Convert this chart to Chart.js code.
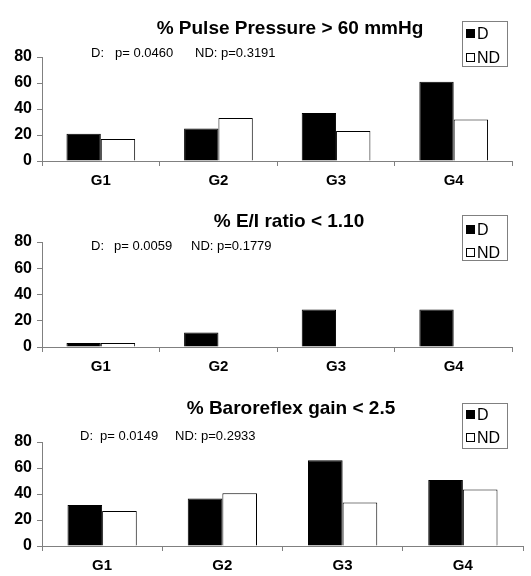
<!DOCTYPE html>
<html>
<head>
<meta charset="utf-8">
<script src="https://cdn.jsdelivr.net/npm/chart.js@4"></script>
<style>
  html, body { margin: 0; padding: 0; background: #fff; }
  body { width: 531px; height: 576px; position: relative; overflow: hidden; font-family: 'Liberation Sans', Arial, sans-serif; color: #000; }
  canvas { position: absolute; left: 0; }
  .title { position: absolute; font-weight: bold; font-size: 19px; white-space: nowrap; transform: translate(-50%, -50%); line-height: 1; }
  .note { position: absolute; font-size: 13px; white-space: nowrap; transform: translateY(-50%); line-height: 1; }
  .legend { position: absolute; border: 1px solid #808080; width: 46px; height: 46px; box-sizing: border-box; background: #fff; }
  .li { position: absolute; left: 3px; font-size: 16px; line-height: 1; white-space: nowrap; transform: translateY(-50%); }
  .sw { display: inline-block; width: 9px; height: 9px; box-sizing: border-box; border: 1px solid #000; margin-right: 2px; vertical-align: 1px; }
</style>
</head>
<body>
<canvas id="c1" width="531" height="191" style="top:0px"></canvas>
<canvas id="c2" width="531" height="187" style="top:190px"></canvas>
<canvas id="c3" width="531" height="196" style="top:380px"></canvas>

<div class="title" style="left:290px; top:27px">% Pulse Pressure &gt; 60 mmHg</div>
<div class="note" style="left:91px; top:52px">D:</div>
<div class="note" style="left:115px; top:52px">p= 0.0460</div>
<div class="note" style="left:195px; top:52px">ND: p=0.3191</div>
<div class="legend" style="left:462px; top:21px"><div class="li" style="top:12px"><span class="sw" style="background:#000"></span>D</div><div class="li" style="top:36px"><span class="sw" style="background:#fff"></span>ND</div></div>

<div class="title" style="left:289px; top:220px">% E/I ratio &lt; 1.10</div>
<div class="note" style="left:91px; top:245px">D:</div>
<div class="note" style="left:114px; top:245px">p= 0.0059</div>
<div class="note" style="left:191px; top:245px">ND: p=0.1779</div>
<div class="legend" style="left:462px; top:215px"><div class="li" style="top:14px"><span class="sw" style="background:#000"></span>D</div><div class="li" style="top:37px"><span class="sw" style="background:#fff"></span>ND</div></div>

<div class="title" style="left:291px; top:407px">% Baroreflex gain &lt; 2.5</div>
<div class="note" style="left:80px; top:435px">D:</div>
<div class="note" style="left:100px; top:435px">p= 0.0149</div>
<div class="note" style="left:175px; top:435px">ND: p=0.2933</div>
<div class="legend" style="left:462px; top:403px"><div class="li" style="top:11px"><span class="sw" style="background:#000"></span>D</div><div class="li" style="top:34px"><span class="sw" style="background:#fff"></span>ND</div></div>

<script>
const categories = ['G1', 'G2', 'G3', 'G4'];
const yTicks = [0, 20, 40, 60, 80];

const pulseD  = [21, 25, 37, 61];
const pulseND = [17, 33, 23, 32];

const eiD  = [3, 11, 28.6, 28.6];
const eiND = [3, 0, 0, 0];

const baroD  = [31.5, 36.5, 66, 50.7];
const baroND = [27, 40.6, 33.4, 43.5];

function makeChart(id, dVals, ndVals, padTop, padRight, catPct) {
  const axisGray = '#808080';
  return new Chart(document.getElementById(id), {
    type: 'bar',
    data: {
      labels: categories,
      datasets: [
        { label: 'D', data: dVals, backgroundColor: '#000', borderColor: '#000', borderWidth: 1 },
        { label: 'ND', data: ndVals, backgroundColor: '#fff', borderColor: '#000', borderWidth: 1 }
      ]
    },
    options: {
      responsive: false,
      devicePixelRatio: 1,
      animation: false,
      layout: { padding: { top: padTop, right: padRight, left: 0, bottom: 0 } },
      datasets: { bar: { categoryPercentage: catPct, barPercentage: 1 } },
      plugins: { legend: { display: false }, title: { display: false }, tooltip: { enabled: false } },
      scales: {
        x: {
          offset: true,
          grid: { display: true, offset: true, drawOnChartArea: false, drawTicks: true, tickLength: 5, color: axisGray },
          border: { display: true, color: axisGray, width: 1 },
          ticks: { color: '#000', padding: 6, font: { family: "'Liberation Sans', Arial", weight: 'bold', size: 15 } },
          afterFit: s => { s.height = 30; }
        },
        y: {
          min: 0, max: 80,
          afterBuildTicks: s => { s.ticks = yTicks.map(v => ({ value: v })); },
          grid: { display: true, drawOnChartArea: false, drawTicks: true, tickLength: 5, color: axisGray },
          border: { display: true, color: axisGray, width: 1 },
          ticks: { color: '#000', padding: 5, font: { family: "'Liberation Sans', Arial", weight: 'bold', size: 16 } },
          afterFit: s => { s.width = 42; }
        }
      }
    }
  });
}

makeChart('c1', pulseD, pulseND, 57, 18.5, 0.584);
makeChart('c2', eiD, eiND, 52, 18.5, 0.584);
makeChart('c3', baroD, baroND, 62, 8, 0.576);
</script>
</body>
</html>
